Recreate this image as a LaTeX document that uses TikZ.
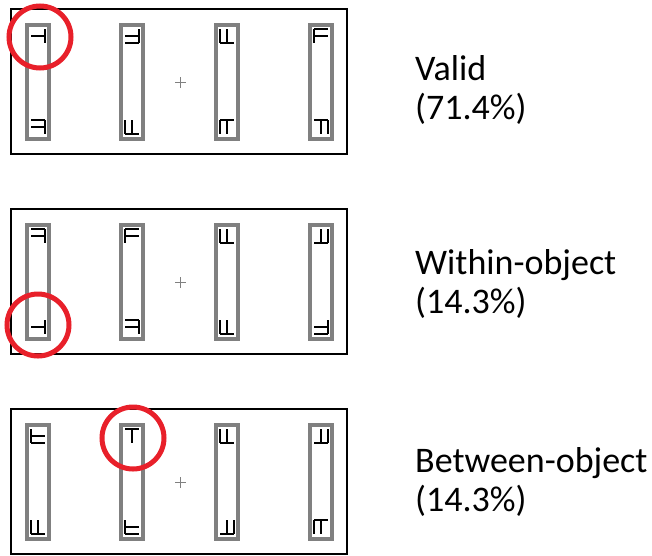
\documentclass[tikz,border=0pt]{standalone}
\usepackage{fontspec}
\setmainfont{Carlito}
\begin{document}
\begin{tikzpicture}[x=1pt,y=-1pt,
  panel/.style={draw=black,line width=2pt},
  bar/.style={draw=black!50,line width=4pt},
  glyph/.style={draw=black,line width=1.3pt},
  cue/.style={draw={rgb,255:red,232;green,32;blue,42},line width=5pt},
  fix/.style={draw=black!50,line width=1.1pt},
  lbl/.style={anchor=base west,inner sep=0pt,font=\fontsize{36}{40}\selectfont}]
\useasboundingbox (0,0) rectangle (652,555);
\def\h{7}
\def\glyphTR{(\h,-\h)--(\h,\h) (-\h,0)--(\h,0)}
\def\glyphTU{(-\h,-\h)--(\h,-\h) (0,-\h)--(0,\h)}
\def\glyphFLT{(-\h,-\h)--(-\h,\h) (-\h,-\h)--(\h,-\h) (-\h,0)--(\h,0)}
\def\glyphFLB{(-\h,-\h)--(-\h,\h) (-\h,\h)--(\h,\h) (-\h,0)--(\h,0)}
\def\glyphFRT{(\h,-\h)--(\h,\h) (-\h,-\h)--(\h,-\h) (-\h,0)--(\h,0)}
\def\glyphFRB{(\h,-\h)--(\h,\h) (-\h,\h)--(\h,\h) (-\h,0)--(\h,0)}
\def\glyphFBL{(-\h,\h)--(\h,\h) (-\h,-\h)--(-\h,\h) (0,-\h)--(0,\h)}
\def\glyphFBR{(-\h,\h)--(\h,\h) (\h,-\h)--(\h,\h) (0,-\h)--(0,\h)}
\def\glyphFTL{(-\h,-\h)--(\h,-\h) (-\h,-\h)--(-\h,\h) (0,-\h)--(0,\h)}
\def\glyphFTR{(-\h,-\h)--(\h,-\h) (\h,-\h)--(\h,\h) (0,-\h)--(0,\h)}
\newcommand\gl[3]{\begin{scope}[shift={(#1,#2)}]\draw[glyph] \csname glyph#3\endcsname;\end{scope}}
% one panel: #1 y offset, #2..#9 glyph types
\newcommand\paneldraw[9]{%
  \begin{scope}[shift={(0,#1)}]
    \draw[panel] (11,9) rectangle (347,154);
    \foreach \cx in {38,132,227,321}{\draw[bar] (\cx-11,25) rectangle (\cx+11,139);}
    \draw[fix] (175,82.5) -- (186,82.5) (180.5,77) -- (180.5,88);
    \gl{38}{36}{#2}\gl{38}{127}{#3}
    \gl{132}{36}{#4}\gl{132}{127}{#5}
    \gl{227}{36}{#6}\gl{227}{127}{#7}
    \gl{321}{36}{#8}\gl{321}{127}{#9}
  \end{scope}}
\paneldraw{0}{TR}{FRT}{FRB}{FBL}{FBL}{FTL}{FLT}{FTR}
\paneldraw{200}{FRT}{TR}{FLT}{FRT}{FBL}{FBL}{FBR}{FRB}
\paneldraw{400}{FLB}{FBL}{TU}{FLB}{FBL}{FBR}{FBR}{FTL}
\draw[cue] (40,37) circle[radius=31];
\draw[cue] (38,325) circle[radius=31];
\draw[cue] (133,438) circle[radius=31];
\node[lbl] (v1) at (415,80) {Valid};
\node[lbl] (v2) at (415,119) {(71.4\%)};
\node[lbl] (w1) at (415,274) {Within-object};
\node[lbl] (w2) at (415,313) {(14.3\%)};
\node[lbl] (b1) at (415,472) {Between-object};
\node[lbl] (b2) at (415,511) {(14.3\%)};
\end{tikzpicture}
\end{document}
